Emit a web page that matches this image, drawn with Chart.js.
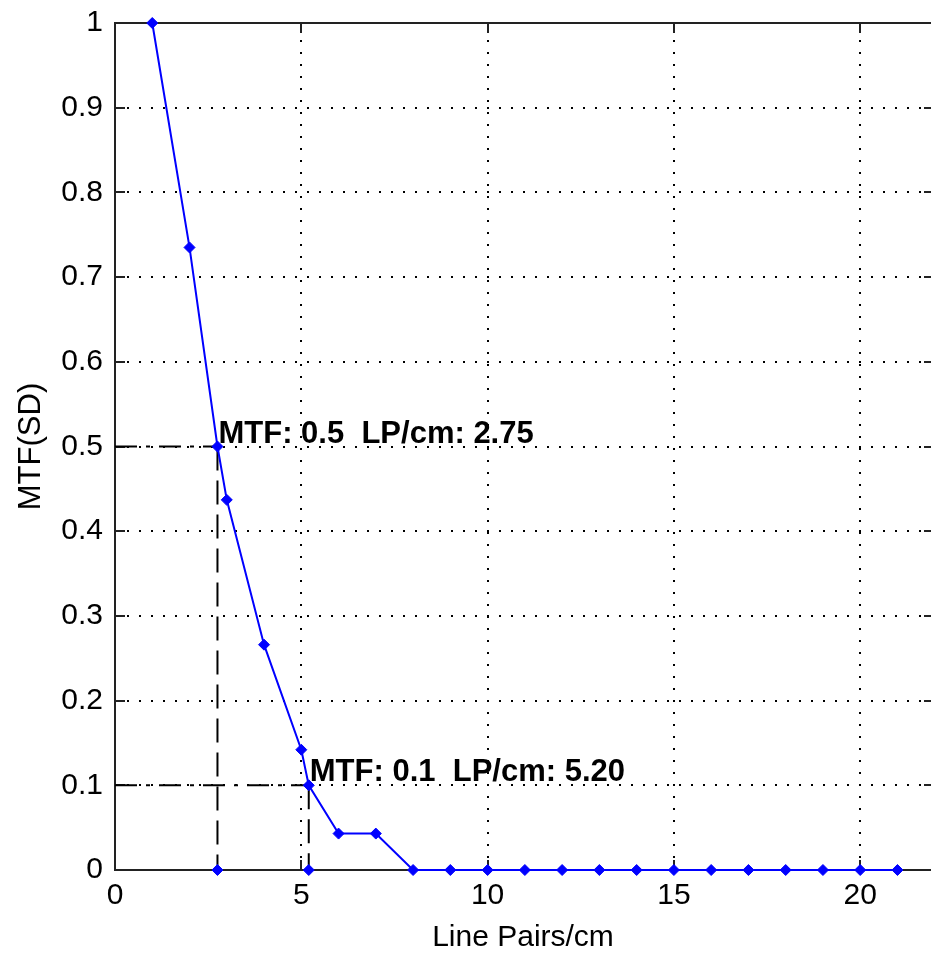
<!DOCTYPE html>
<html>
<head>
<meta charset="utf-8">
<script src="https://cdn.jsdelivr.net/npm/chart.js@4.4.1/dist/chart.umd.min.js"></script>
<style>
  html, body { margin: 0; padding: 0; background: #fff; overflow: hidden; }
  canvas { display: block; }
</style>
</head>
<body>
<canvas id="c" width="931" height="956"></canvas>
<script>
// ---- data ----
const lpPerCm = [1, 2, 2.75, 3, 4, 5, 5.2, 6, 7, 8, 9, 10, 11, 12, 13, 14, 15, 16, 17, 18, 19, 20, 21];
const mtfValues = [1.0, 0.735, 0.5, 0.437, 0.266, 0.142, 0.1, 0.043, 0.043, 0, 0, 0, 0, 0, 0, 0, 0, 0, 0, 0, 0, 0, 0];
const markLp = [2.75, 5.20];
const markMtf = [0.5, 0.1];
const markLabels = ['MTF: 0.5  LP/cm: 2.75', 'MTF: 0.1  LP/cm: 5.20'];
const xTicks = [0, 5, 10, 15, 20];
const yTicks = [0, 0.1, 0.2, 0.3, 0.4, 0.5, 0.6, 0.7, 0.8, 0.9, 1];
const xRange = [0, 21.9];
const yRange = [0, 1];
const xTitle = 'Line Pairs/cm';
const yTitle = 'MTF(SD)';

const BLUE = '#0000ff';
const FONT = 'Arial, "Liberation Sans", Helvetica, sans-serif';

const mainData = lpPerCm.map((v, i) => ({ x: v, y: mtfValues[i] }));
const guideSets = [];
markLp.forEach((lp, i) => {
  guideSets.push({
    data: [{ x: xRange[0], y: markMtf[i] }, { x: lp, y: markMtf[i] }],
    borderColor: '#000', borderWidth: 2, borderDash: [22, 9, 4, 9],
    pointRadius: 0, showLine: true, clip: false, order: 2
  });
  guideSets.push({
    data: [{ x: lp, y: markMtf[i] }, { x: lp, y: yRange[0] }],
    borderColor: '#000', borderWidth: 2, borderDash: [24, 10],
    pointRadius: [0, 5.5], pointStyle: 'rectRot',
    pointBackgroundColor: BLUE, pointBorderColor: BLUE, pointBorderWidth: 1,
    showLine: true, clip: false, order: 2
  });
});

const framePlugin = {
  id: 'frame',
  beforeDatasetsDraw(chart) {
    const { ctx, chartArea: { left, right, top, bottom }, scales: { x, y } } = chart;
    ctx.save();
    const line = (x1, y1, x2, y2) => { ctx.beginPath(); ctx.moveTo(x1, y1); ctx.lineTo(x2, y2); ctx.stroke(); };
    // dotted grid
    ctx.strokeStyle = '#000';
    ctx.lineWidth = 2;
    ctx.setLineDash([2, 10]);
    xTicks.forEach(v => {
      if (v <= x.min || v >= x.max) return;
      const px = Math.round(x.getPixelForValue(v));
      line(px, bottom, px, top);
    });
    yTicks.forEach(v => {
      if (v <= y.min || v >= y.max) return;
      const py = Math.round(y.getPixelForValue(v));
      line(left, py, right, py);
    });
    ctx.setLineDash([]);
    // frame (left, top, bottom; right edge lies at the image border)
    ctx.strokeStyle = '#222';
    ctx.lineWidth = 2;
    line(left, top, right, top);
    line(left, bottom, right, bottom);
    line(left, top - 1, left, bottom + 1);
    // inward ticks
    const tl = 10;
    xTicks.forEach(v => {
      const px = Math.round(x.getPixelForValue(v));
      line(px, bottom, px, bottom - tl);
      line(px, top, px, top + tl);
    });
    yTicks.forEach(v => {
      const py = Math.round(y.getPixelForValue(v));
      line(left, py, left + tl, py);
      line(right, py, right - 7, py);
    });
    ctx.restore();
  },
  afterDatasetsDraw(chart) {
    const { ctx, scales: { x, y } } = chart;
    ctx.save();
    ctx.fillStyle = '#000';
    ctx.font = 'bold 31px ' + FONT;
    ctx.textAlign = 'left';
    ctx.textBaseline = 'alphabetic';
    markLp.forEach((lp, i) => {
      ctx.fillText(markLabels[i], x.getPixelForValue(lp) + 1, y.getPixelForValue(markMtf[i]) - 4);
    });
    ctx.restore();
  }
};

new Chart(document.getElementById('c'), {
  type: 'scatter',
  data: {
    datasets: [{
      data: mainData,
      showLine: true,
      borderColor: BLUE,
      borderWidth: 2,
      pointStyle: 'rectRot',
      pointRadius: 5.5,
      pointBackgroundColor: BLUE,
      pointBorderColor: BLUE,
      pointBorderWidth: 1,
      clip: false,
      order: 1
    }, ...guideSets]
  },
  options: {
    responsive: false,
    devicePixelRatio: 1,
    animation: false,
    layout: { autoPadding: false, padding: { top: 23, right: 0, left: 0, bottom: 0 } },
    plugins: { legend: { display: false }, tooltip: { enabled: false } },
    scales: {
      x: {
        type: 'linear', min: xRange[0], max: xRange[1],
        afterBuildTicks: s => { s.ticks = xTicks.map(v => ({ value: v })); },
        afterFit: s => { s.height = 86; s.paddingLeft = 0; s.paddingRight = 0; },
        grid: { display: false, drawTicks: false },
        border: { display: false },
        ticks: { color: '#000', font: { family: FONT, size: 30 }, padding: 8, maxRotation: 0,
                 callback: v => String(v) },
        title: { display: true, text: xTitle, color: '#000', font: { family: FONT, size: 30 },
                 padding: { top: 0, bottom: 0 } }
      },
      y: {
        type: 'linear', min: yRange[0], max: yRange[1],
        afterBuildTicks: s => { s.ticks = yTicks.map(v => ({ value: v })); },
        afterFit: s => { s.width = 115; s.paddingTop = 0; s.paddingBottom = 0; },
        grid: { display: false, drawTicks: false },
        border: { display: false },
        ticks: { color: '#000', font: { family: FONT, size: 30 }, padding: 12,
                 callback: v => String(Math.round(v * 10) / 10) },
        title: { display: true, text: yTitle, color: '#000', font: { family: FONT, size: 31 },
                 padding: { top: 13, bottom: 0 } }
      }
    }
  },
  plugins: [framePlugin]
});
</script>
</body>
</html>
